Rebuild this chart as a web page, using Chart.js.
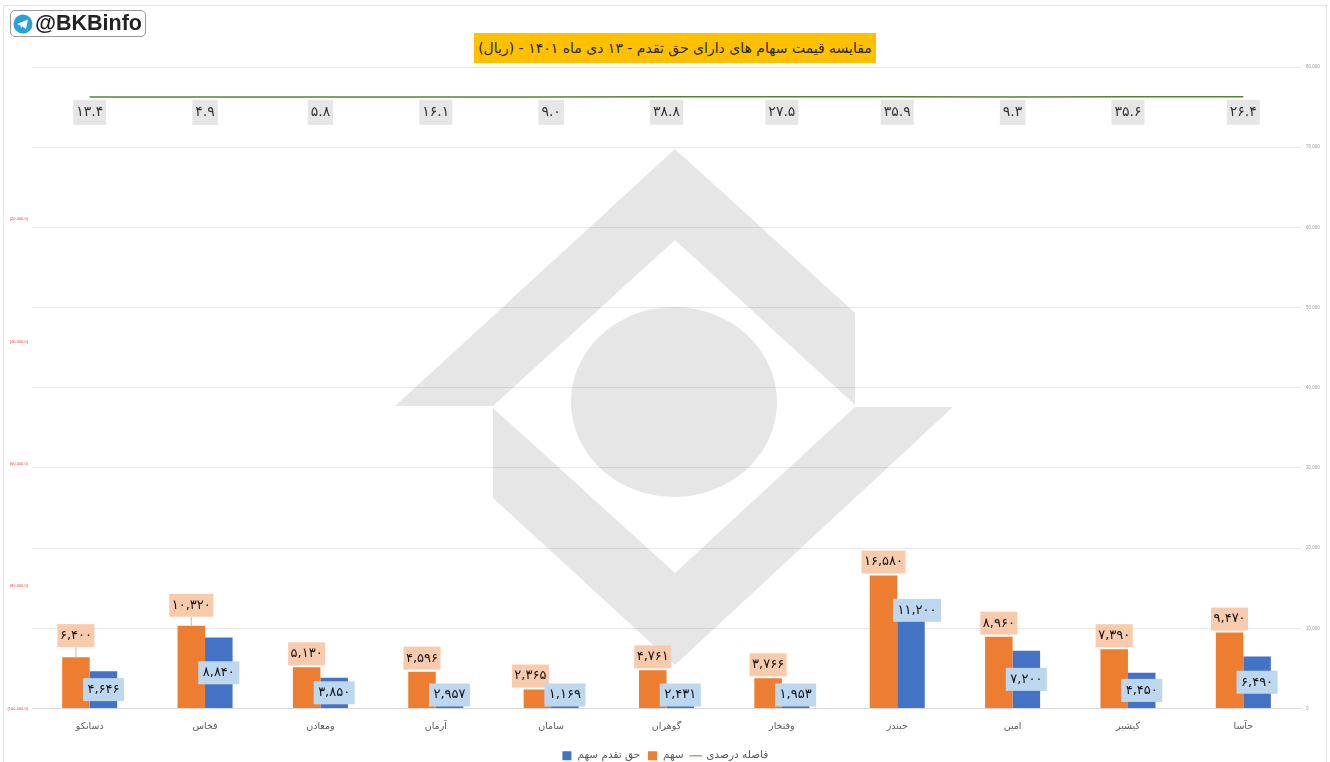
<!DOCTYPE html>
<html lang="fa">
<head>
<meta charset="utf-8">
<title>مقایسه قیمت سهام</title>
<script src="https://cdn.jsdelivr.net/npm/chart.js@4/dist/chart.umd.min.js"></script>
<style>
  html, body { margin: 0; padding: 0; background: #fff; overflow: hidden; }
  #page { position: relative; width: 1330px; height: 762px; overflow: hidden; }
  #frame { position: absolute; left: 3px; top: 5px; width: 1322px; height: 770px; border: 1px solid #e4e4e4; }
  #watermark { position: absolute; left: 0; top: 0; }
  #price-chart { position: absolute; left: 0; top: 0; }
  #badge {
    position: absolute; left: 10px; top: 10px; width: 134px; height: 25px;
    border: 1px solid #9a9a9a; border-radius: 5px; background: #fff;
    font: bold 21.5px "Liberation Sans", sans-serif; color: #222; line-height: 25px;
  }
  #badge svg { position: absolute; left: 2px; top: 3px; }
  #badge span { position: absolute; left: 24px; top: 0; }
  #chart-title {
    position: absolute; left: 474px; top: 33px; width: 402px; height: 30px;
    background: #FFC000; color: #262626; text-align: center;
    font: 14px/30px "DejaVu Sans", sans-serif; white-space: nowrap;
  }
</style>
</head>
<body>
<div id="page">
  <div id="frame"></div>
  <svg id="watermark" width="1330" height="762">
    <g fill="#e6e6e6">
      <polygon points="675,149 855,313 855,405 675,240 493,406 395,406"/>
      <polygon points="493,408 675,573 855,407 953,407 675,665 493,498"/>
      <ellipse cx="674" cy="402" rx="103" ry="95"/>
    </g>
  </svg>
  <canvas id="price-chart" width="1330" height="762"></canvas>
  <div id="badge">
    <svg width="20" height="20" viewBox="0 0 20 20">
      <circle cx="10" cy="10" r="9.5" fill="#2b9fd8"/>
      <polygon points="4,10 15,5.5 13,15 9.5,12.5 8,14 7.5,11.5" fill="#fff"/>
    </svg>
    <span>@BKBinfo</span>
  </div>
  <div id="chart-title" dir="rtl">مقایسه قیمت سهام های دارای حق تقدم - ۱۳ دی ماه ۱۴۰۱ - (ریال)</div>
</div>
<script>
// Values
const categories = ['دسانکو', 'فخاس', 'ومعادن', 'آرمان', 'سامان', 'گوهران', 'وفتخار', 'حبندر', 'امین', 'کیشیر', 'حآسا'];
const shareValues = [6400, 10320, 5130, 4596, 2365, 4761, 3766, 16580, 8960, 7390, 9470];
const rightsValues = [4646, 8840, 3850, 2957, 1169, 2431, 1953, 11200, 7200, 4450, 6490];
const gapPercent = [13.4, 4.9, 5.8, 16.1, 9.0, 38.8, 27.5, 35.9, 9.3, 35.6, 26.4];
const leftAxisTicks = [-100000, -80000, -60000, -40000, -20000];

const FONT = '"DejaVu Sans", sans-serif';

// Labels that were moved by hand in the original [dx, dy]
const shareNudge = { 'دسانکو': [0, -8], 'فخاس': [0, -7], 'سامان': [-7, 0] };
const rightsNudge = { 'حبندر': [6, -53] };

function faDigits(text) {
    return String(text).replace(/\d/g, d => '۰۱۲۳۴۵۶۷۸۹'[d]);
}

function thousands(v) {
    return faDigits(v.toLocaleString('en-US'));
}

// Filled box with centred text
function drawBox(ctx, text, cx, cy, padX, h, bg, color, font) {
    ctx.font = font;
    const w = ctx.measureText(text).width + padX * 2;
    ctx.fillStyle = bg;
    ctx.fillRect(cx - w / 2, cy - h / 2, w, h);
    ctx.fillStyle = color;
    ctx.textAlign = 'center';
    ctx.textBaseline = 'middle';
    ctx.direction = 'ltr';
    ctx.fillText(text, cx, cy);
}

const valueLabels = {
    id: 'valueLabels',
    // legend sits lower than the layout would put it
    afterLayout(chart) {
        chart.legend.top += 9;
        chart.legend.bottom += 9;
    },
    afterDatasetsDraw(chart) {
        const ctx = chart.ctx;
        ctx.save();
        const font = '13px ' + FONT;

        chart.getDatasetMeta(0).data.forEach((pt, i) => {
            drawBox(ctx, faDigits(gapPercent[i].toFixed(1)), pt.x, pt.y + 15.5, 3, 25, '#E7E6E6', '#333', '14px ' + FONT);
        });

        chart.getDatasetMeta(1).data.forEach((bar, i) => {
            const n = shareNudge[categories[i]] || [0, 0];
            const cy = bar.y - 2 - 11.5 + n[1];
            if (n[1] < 0) {
                ctx.strokeStyle = '#bfbfbf';
                ctx.lineWidth = 1;
                ctx.beginPath();
                ctx.moveTo(bar.x, bar.y);
                ctx.lineTo(bar.x, cy + 11.5);
                ctx.stroke();
            }
            drawBox(ctx, thousands(shareValues[i]), bar.x + n[0], cy, 2.5, 23, '#F8CBAD', '#111', font);
        });

        chart.getDatasetMeta(2).data.forEach((bar, i) => {
            const n = rightsNudge[categories[i]] || [0, 0];
            const cy = Math.min((bar.y + bar.base) / 2, bar.base - 13) + n[1];
            drawBox(ctx, thousands(rightsValues[i]), bar.x + n[0], cy, 4.5, 23, '#BDD7EE', '#111', font);
        });
        ctx.restore();
    }
};

new Chart(document.getElementById('price-chart').getContext('2d'), {
    type: 'bar',
    data: {
        labels: categories,
        datasets: [
            {
                type: 'line',
                label: 'فاصله درصدی',
                data: gapPercent,
                yAxisID: 'y2',
                borderColor: '#548235',
                borderWidth: 1.5,
                pointRadius: 0,
                tension: 0
            },
            { label: 'سهم', data: shareValues, backgroundColor: '#ED7D31', yAxisID: 'y' },
            { label: 'حق تقدم سهم', data: rightsValues, backgroundColor: '#4472C4', yAxisID: 'y' }
        ]
    },
    options: {
        responsive: false,
        animation: false,
        layout: { padding: { top: 67, left: 0, right: 0, bottom: 0 } },
        datasets: { bar: { categoryPercentage: 0.477, barPercentage: 1 } },
        scales: {
            x: {
                grid: { display: false },
                border: { color: '#d9d9d9' },
                ticks: { color: '#595959', font: { family: FONT, size: 9.5 }, padding: 4, maxRotation: 0 },
                afterFit(scale) { scale.height = 26; }
            },
            y: {
                position: 'right',
                min: 0,
                max: 80000,
                ticks: {
                    stepSize: 10000,
                    color: '#9a9a9a',
                    padding: 5,
                    font: { family: '"Liberation Sans"', size: 4.5 },
                    callback: v => v.toLocaleString('en-US')
                },
                border: { display: false },
                grid: { color: 'rgba(0,0,0,0.09)', drawTicks: false },
                afterFit(scale) { scale.width = 29; }
            },
            y2: {
                position: 'left',
                min: -100000,
                max: 4910,
                afterBuildTicks(scale) { scale.ticks = leftAxisTicks.map(value => ({ value })); },
                ticks: {
                    color: '#f03c3c',
                    padding: 4,
                    font: { family: '"Liberation Sans"', size: 4 },
                    callback: v => '(' + Math.abs(v).toLocaleString('en-US') + '.0)'
                },
                border: { display: false },
                grid: { display: false, drawTicks: false },
                afterFit(scale) { scale.width = 32; }
            }
        },
        plugins: {
            tooltip: { enabled: false },
            legend: {
                position: 'bottom',
                labels: {
                    color: '#595959',
                    font: { family: FONT, size: 10.5 },
                    usePointStyle: true,
                    boxHeight: 9,
                    padding: 7,
                    generateLabels(chart) {
                        return Chart.defaults.plugins.legend.labels.generateLabels(chart).map(item => {
                            const isLine = item.datasetIndex === 0;
                            item.pointStyle = isLine ? 'line' : 'rect';
                            if (isLine) { item.strokeStyle = '#A9A48F'; item.lineWidth = 1.5; }
                            else { item.lineWidth = 0; }
                            return item;
                        });
                    },
                    sort: (a, b) => b.datasetIndex - a.datasetIndex
                }
            }
        }
    },
    plugins: [valueLabels]
});
</script>
</body>
</html>
